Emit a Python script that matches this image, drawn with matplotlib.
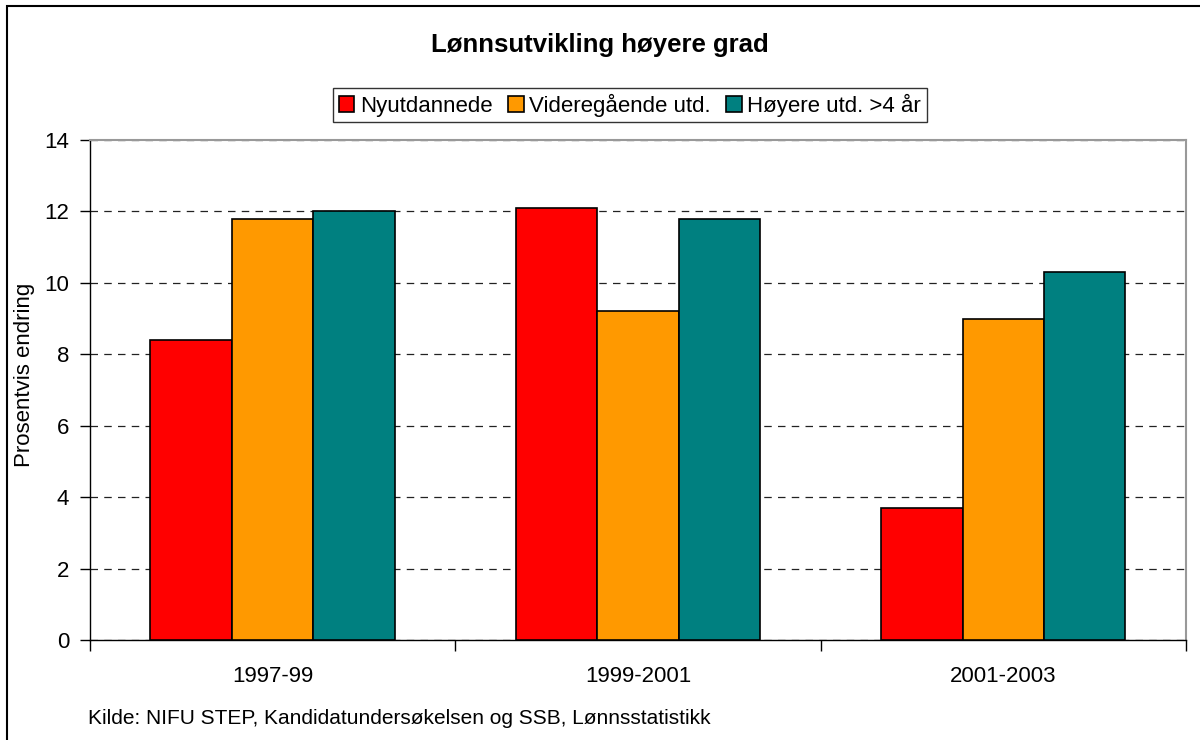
import matplotlib.pyplot as plt
import numpy as np
from matplotlib.patches import Rectangle

plt.rcParams['font.family'] = ['Liberation Sans', 'DejaVu Sans']

periods = ['1997-99', '1999-2001', '2001-2003']
series = ['Nyutdannede', 'Videregående utd.', 'Høyere utd. >4 år']
nyutdannede = [8.4, 12.1, 3.7]
videregaende = [11.8, 9.2, 9.0]
hoyere = [12.0, 11.8, 10.3]
colors = ['#ff0000', '#ff9900', '#008080']

fig = plt.figure(figsize=(12, 7.4), dpi=100)
ax = fig.add_axes([0.075, 0.1351, 0.9133, 0.6757])

x = np.arange(len(periods))
w = 0.223
for i, (vals, c, lab) in enumerate(zip([nyutdannede, videregaende, hoyere], colors, series)):
    ax.bar(x + (i - 1) * w, vals, w, color=c, edgecolor='black', linewidth=1.2,
           label=lab, zorder=3)

ax.set_xlim(-0.5, 2.5)
ax.set_ylim(0, 14)
ax.set_yticks(range(0, 15, 2))
ax.yaxis.grid(True, linestyle=(0, (6, 5)), color='#222222', linewidth=0.9)
ax.set_xticks([-0.5, 0.5, 1.5, 2.5])
ax.set_xticklabels([])
ax.set_xticks(x, minor=True)
ax.set_xticklabels(periods, minor=True)
ax.tick_params(axis='x', which='minor', length=0, pad=19, labelsize=16)
ax.tick_params(axis='x', which='major', length=8, width=1, direction='out')
ax.tick_params(axis='y', length=7, width=1, direction='out', labelsize=16, pad=8)

for s in ['top', 'right']:
    ax.spines[s].set_color('#999999')
    ax.spines[s].set_linewidth(1.5)
for s in ['left', 'bottom']:
    ax.spines[s].set_color('black')
    ax.spines[s].set_linewidth(1.0)

fig.text(25 / 1200, 1 - 375 / 740, 'Prosentvis endring', rotation=90, ha='center', va='center',
         fontsize=16)

fig.text(0.5, 1 - 45 / 740, 'Lønnsutvikling høyere grad', ha='center', va='center',
         fontsize=18.5, fontweight='bold')

leg = ax.legend(loc='center', bbox_to_anchor=(630 / 1200, 1 - 105 / 740), bbox_transform=fig.transFigure,
                ncol=3, frameon=True, fancybox=False, fontsize=16, handlelength=0.7,
                handleheight=0.7, handletextpad=0.25, columnspacing=0.7, borderpad=0.25,
                edgecolor='black')
leg.get_frame().set_linewidth(1.0)

fig.text(88 / 1200, 1 - 718 / 740, 'Kilde: NIFU STEP, Kandidatundersøkelsen og SSB, Lønnsstatistikk',
         ha='left', va='center', fontsize=15)

# outer chart frame (cropped on right and bottom)
fig.add_artist(Rectangle((7 / 1200, -0.1), 1.2, 0.1 + (1 - 6 / 740), transform=fig.transFigure,
                         fill=False, edgecolor='black', linewidth=1.5))

fig.savefig('out.png', dpi=100)
